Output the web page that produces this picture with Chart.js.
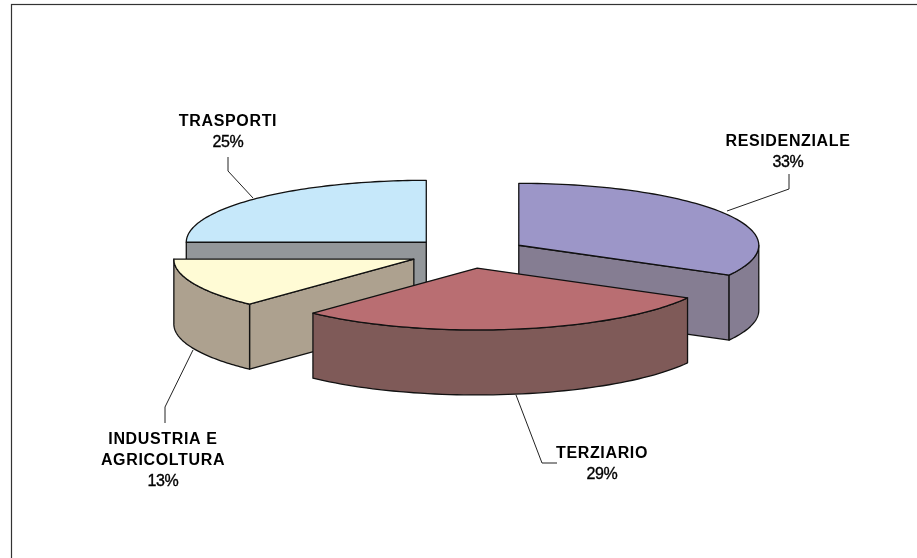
<!DOCTYPE html>
<html><head><meta charset="utf-8">
<style>html,body{margin:0;padding:0;background:#fff}#w{position:absolute;left:0;top:0;width:917px;height:558px}</style>
<script src="https://cdn.jsdelivr.net/npm/chart.js@4"></script></head>
<body><div id="w"><canvas id="c"></canvas></div>
<script>
const categories = ['RESIDENZIALE','TERZIARIO','INDUSTRIA E\nAGRICOLTURA','TRASPORTI'];
const shares = [33,29,13,25];
const topColors = ['#9C96C8','#B96E72','#FFFBD5','#C6E8FA'];
const wallColors = ['#857D92','#7F5A58','#ADA18F','#93979A'];
const drawOrder = [3,0,2,1];
const labelAnchors = [[788,146],[602,458],[163,444],[228,126]];
const leaders = [
 [[789,174],[789,189],[727,211]],
 [[516,395],[542,463],[557,463]],
 [[193,350],[165,407],[165,423]],
 [[228,157],[228,171],[253,198]]
];
const RX=240, SQ=0.258, DEPTH=65, EXPLODE=59, CX=468, CY=253;

const pie3d = {
  id:'pie3d',
  beforeDatasetDraw(chart,args){
    const ctx=chart.ctx, arcs=chart.getDatasetMeta(0).data;
    const x0=chart.chartArea.left+chart.chartArea.width/2, y0=chart.chartArea.top+chart.chartArea.height/2;
    const px=(x,y)=>[CX+(x-x0), CY+(y-y0)*SQ];
    drawOrder.forEach(i=>{
      const a=arcs[i];
      const mid=(a.startAngle+a.endAngle)/2;
      const dx=Math.cos(mid)*EXPLODE, dy=Math.sin(mid)*EXPLODE;
      const ax=a.x+dx, ay=a.y+dy, r=a.outerRadius;
      const pt=t=>px(ax+Math.cos(t)*r, ay+Math.sin(t)*r);
      const c=px(ax,ay);
      ctx.save();
      ctx.lineWidth=1.3; ctx.strokeStyle='#111'; ctx.lineJoin='round';
      ctx.fillStyle=wallColors[i];
      // only the cut walls that face the viewer
      const visible=[];
      if(Math.cos(a.startAngle)<-1e-6) visible.push(a.startAngle);
      if(Math.cos(a.endAngle)>1e-6) visible.push(a.endAngle);
      visible.forEach(t=>{
        const p=pt(t);
        ctx.beginPath(); ctx.moveTo(c[0],c[1]); ctx.lineTo(p[0],p[1]);
        ctx.lineTo(p[0],p[1]+DEPTH); ctx.lineTo(c[0],c[1]+DEPTH); ctx.closePath();
        ctx.fill(); ctx.stroke();
      });
      const s=Math.max(a.startAngle,0), e=Math.min(a.endAngle,Math.PI);
      if(e>s){
        ctx.beginPath();
        for(let k=0;k<=60;k++){const p=pt(s+(e-s)*k/60); k?ctx.lineTo(p[0],p[1]):ctx.moveTo(p[0],p[1]);}
        for(let k=60;k>=0;k--){const p=pt(s+(e-s)*k/60); ctx.lineTo(p[0],p[1]+DEPTH);}
        ctx.closePath(); ctx.fill(); ctx.stroke();
      }
      ctx.save();
      ctx.translate(CX,CY); ctx.scale(1,SQ); ctx.translate(-x0+dx,-y0+dy);
      a.draw(ctx);
      ctx.restore();
      ctx.beginPath();
      ctx.moveTo(c[0],c[1]);
      for(let k=0;k<=80;k++){const p=pt(a.startAngle+(a.endAngle-a.startAngle)*k/80); ctx.lineTo(p[0],p[1]);}
      ctx.closePath(); ctx.stroke();
      ctx.restore();
    });
    ctx.save();
    ctx.strokeStyle='#222'; ctx.lineWidth=1;
    leaders.forEach(l=>{ctx.beginPath();l.forEach((p,k)=>k?ctx.lineTo(p[0],p[1]):ctx.moveTo(p[0],p[1]));ctx.stroke();});
    ctx.fillStyle='#000'; ctx.strokeStyle='#000'; ctx.textAlign='center'; ctx.textBaseline='alphabetic';
    categories.forEach((c,i)=>{
      const lines=c.split('\n'); let y=labelAnchors[i][1];
      ctx.font='bold 16px "Liberation Sans"';
      ctx.letterSpacing='0.65px';
      lines.forEach(t=>{ctx.fillText(t,labelAnchors[i][0],y);y+=21;});
      ctx.font='16px "Liberation Sans"';
      ctx.letterSpacing='-0.4px';
      ctx.lineWidth=0.35;
      ctx.fillText(shares[i]+'%',labelAnchors[i][0],y);
      ctx.strokeText(shares[i]+'%',labelAnchors[i][0],y);
    });
    ctx.restore();
    return false;
  }
};
const frame={id:'frame',beforeDraw(chart){
  const ctx=chart.ctx;
  ctx.save();ctx.fillStyle='#fff';ctx.fillRect(0,0,917,558);
  ctx.strokeStyle='#333';ctx.lineWidth=1.2;
  ctx.strokeRect(11.5,4.5,1000,1000);
  ctx.restore();
}};
new Chart(document.getElementById('c'),{
  type:'pie',
  data:{labels:categories,datasets:[{
    data:shares,backgroundColor:topColors,borderWidth:0,clip:false
  }]},
  options:{responsive:true,maintainAspectRatio:false,animation:false,radius:RX,
    layout:{padding:0},
    plugins:{legend:{display:false},tooltip:{enabled:false},title:{display:false}}},
  plugins:[frame,pie3d]
});
</script></body></html>
